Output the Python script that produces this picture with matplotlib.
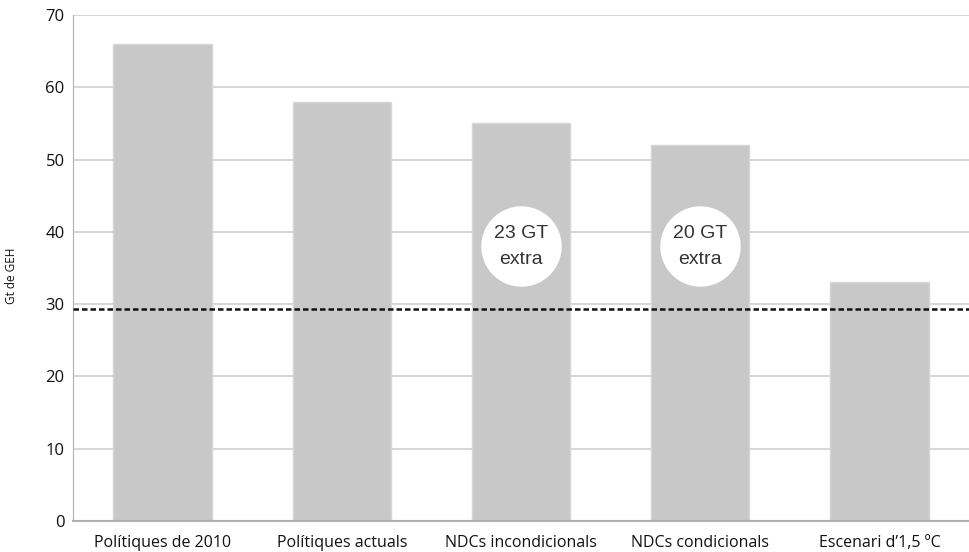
import matplotlib
matplotlib.use("Agg")
from matplotlib import pyplot as plt
from matplotlib import font_manager as fm

names = {f.name for f in fm.fontManager.ttflist}
tick_font = ['Liberation Sans Narrow', 'DejaVu Sans'] if 'Liberation Sans Narrow' in names else ['Open Sans', 'DejaVu Sans']

categories = ['Polítiques de 2010', 'Polítiques actuals', 'NDCs incondicionals',
              'NDCs condicionals', "Escenari d’1,5 ºC"]
values = [66, 58, 55, 52, 33]
target = 29.3
bubble_x = [2, 3]
bubble_y = [38, 38]
bubble_text = ['23 GT\nextra', '20 GT\nextra']

fig = plt.figure(figsize=(9.69, 5.52), dpi=100)
ax = fig.add_axes([73/969, 31/552, 896/969, 506/552])

x = range(len(categories))
ax.bar(x, values, width=0.55, color='#c8c8c8', edgecolor='#d6d6d6', linewidth=1, zorder=2)
ax.axhline(target, color='#111111', linestyle=(0, (2.2, 1.2)), linewidth=1.8, zorder=4)
ax.scatter(bubble_x, bubble_y, s=3350, color='white', zorder=5, linewidths=0)
for bx, by, t in zip(bubble_x, bubble_y, bubble_text):
    ax.text(bx, by, t, ha='center', va='center', fontsize=14, color='#333333',
            family=['Liberation Sans', 'DejaVu Sans'], linespacing=1.65, zorder=6)

ax.set_xlim(-0.5, len(categories) - 0.5)
ax.set_ylim(0, 70)
ax.set_yticks(range(0, 71, 10))
ax.set_xticks(list(x))
ax.set_xticklabels(categories, family=tick_font, fontsize=11.5, color='#111111')
for lab in ax.get_yticklabels():
    lab.set_family(tick_font)
    lab.set_fontsize(12)
    lab.set_color('#111111')
ax.tick_params(length=0, pad=6)
ax.tick_params(axis='x', pad=10)
ax.yaxis.grid(True, color='#d0d0d0', linewidth=1.2, zorder=0)
ax.set_axisbelow(True)
for s in ['top', 'right']:
    ax.spines[s].set_visible(False)
ax.spines['left'].set_color('#b0b0b0')
ax.spines['bottom'].set_color('#b0b0b0')
ax.spines['bottom'].set_linewidth(1.5)
fig.text(12/969, 1 - 276/552, 'Gt de GEH', rotation=90, ha='center', va='center',
         fontsize=8.5, family=tick_font, color='#111111')

fig.savefig('out.png', dpi=100)
